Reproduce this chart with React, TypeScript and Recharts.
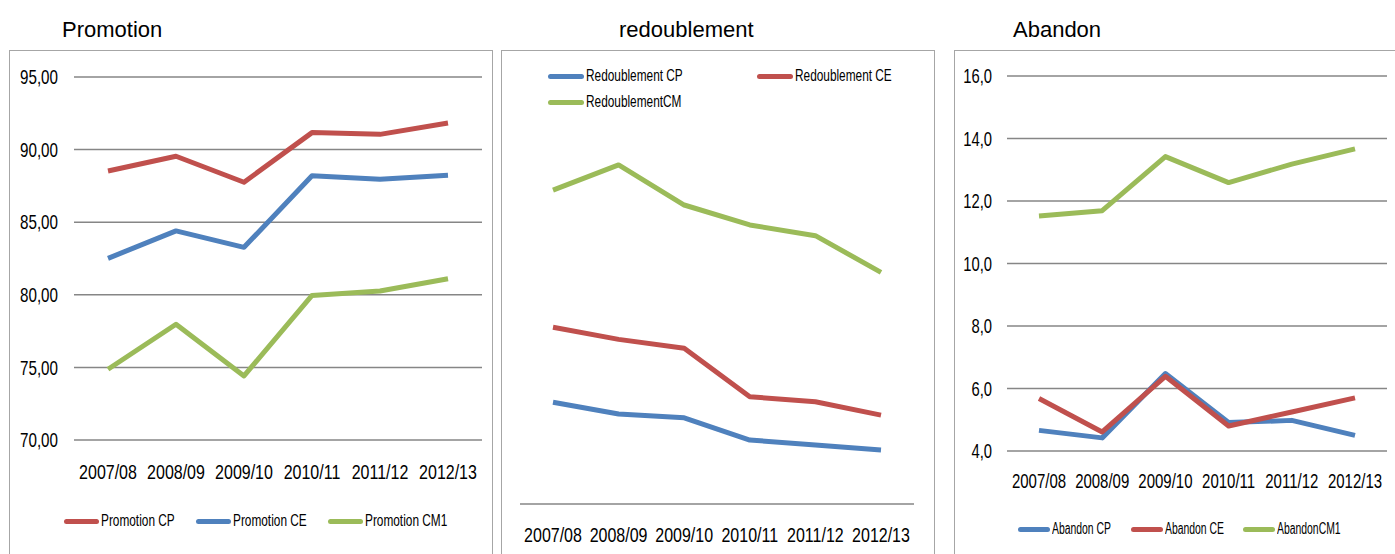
import React from 'react';
import { LineChart, Line, XAxis, YAxis, CartesianGrid, Legend } from 'recharts';

const years = ['2007/08', '2008/09', '2009/10', '2010/11', '2011/12', '2012/13'];

const promotionCP = [88.53, 89.54, 87.75, 91.17, 91.05, 91.83];
const promotionCE = [82.51, 84.4, 83.27, 88.2, 87.95, 88.23];
const promotionCM1 = [74.87, 77.97, 74.41, 79.96, 80.26, 81.11];
const promotionTicks = [70, 75, 80, 85, 90, 95];

const redoublementCP = [5.71, 5.05, 4.84, 3.59, 3.31, 3.03];
const redoublementCE = [9.92, 9.24, 8.74, 6.02, 5.74, 4.99];
const redoublementCM = [17.62, 19.03, 16.78, 15.66, 15.06, 13.0];

const abandonCP = [4.66, 4.42, 6.48, 4.91, 4.98, 4.5];
const abandonCE = [5.68, 4.61, 6.39, 4.8, 5.25, 5.7];
const abandonCM1 = [11.52, 11.69, 13.42, 12.59, 13.18, 13.67];
const abandonTicks = [4, 6, 8, 10, 12, 14, 16];

const RED = '#C0504D';
const BLUE = '#4F81BD';
const GREEN = '#9BBB59';
const GRID = '#868686';
const FONT = "'Liberation Sans', Arial, sans-serif";

type Serie = { key: string; name: string; color: string; values: number[] };

const toRows = (series: Serie[]) =>
  years.map((y, i) => {
    const row: Record<string, string | number> = { year: y };
    series.forEach((s) => (row[s.key] = s.values[i]));
    return row;
  });

// the original uses a condensed face; squeeze Liberation Sans horizontally
const squeezedTick = (squeeze: number, dy: string, fmt?: (v: number) => string) => (props: any) => {
  const { x, y, payload, textAnchor } = props;
  const label = fmt ? fmt(payload.value) : payload.value;
  return (
    <g transform={`translate(${x},${y})`}>
      <text
        x={0}
        y={0}
        dy={dy}
        textAnchor={textAnchor}
        transform={`scale(${squeeze},1)`}
        fontFamily={FONT}
        fontSize={20}
        fill="#000"
      >
        {label}
      </text>
    </g>
  );
};

const makeLegend = (series: Serie[], itemWidth: number, swatch: number, squeeze: number) => () => (
  <div style={{ display: 'flex', flexWrap: 'wrap', width: itemWidth > 200 ? itemWidth * 2 : undefined }}>
    {series.map((s) => (
      <div
        key={s.key}
        style={{ width: itemWidth, height: 26, display: 'flex', alignItems: 'center', fontFamily: FONT, fontSize: 16, color: '#000' }}
      >
        <span style={{ display: 'inline-block', flex: 'none', width: swatch, height: 5, borderRadius: 3, background: s.color, marginRight: 2 }} />
        <span style={{ whiteSpace: 'nowrap', display: 'inline-block', transform: `scaleX(${squeeze})`, transformOrigin: 'left center' }}>
          {s.name}
        </span>
      </div>
    ))}
  </div>
);

const frame = (left: number, width: number): React.CSSProperties => ({
  position: 'absolute',
  left,
  top: 50,
  width,
  height: 520,
  border: '1px solid #a6a6a6',
  boxSizing: 'border-box',
});

const title = (left: number, text: string) => (
  <div
    style={{
      position: 'absolute',
      left,
      top: 17,
      fontFamily: FONT,
      fontSize: 22,
      color: '#000',
      whiteSpace: 'nowrap',
    }}
  >
    {text}
  </div>
);

const promoSeries: Serie[] = [
  { key: 'cp', name: 'Promotion CP', color: RED, values: promotionCP },
  { key: 'ce', name: 'Promotion CE', color: BLUE, values: promotionCE },
  { key: 'cm', name: 'Promotion CM1', color: GREEN, values: promotionCM1 },
];
const redoSeries: Serie[] = [
  { key: 'cp', name: 'Redoublement CP', color: BLUE, values: redoublementCP },
  { key: 'ce', name: 'Redoublement CE', color: RED, values: redoublementCE },
  { key: 'cm', name: 'RedoublementCM', color: GREEN, values: redoublementCM },
];
const abanSeries: Serie[] = [
  { key: 'cp', name: 'Abandon CP', color: BLUE, values: abandonCP },
  { key: 'ce', name: 'Abandon CE', color: RED, values: abandonCE },
  { key: 'cm', name: 'AbandonCM1', color: GREEN, values: abandonCM1 },
];

const fmt2 = (v: number) => v.toFixed(2).replace('.', ',');
const fmt1 = (v: number) => v.toFixed(1).replace('.', ',');

const lines = (series: Serie[]) =>
  series.map((s) => (
    <Line
      key={s.key}
      dataKey={s.key}
      name={s.name}
      stroke={s.color}
      strokeWidth={5}
      strokeLinejoin="round"
      dot={false}
      activeDot={false}
      isAnimationActive={false}
    />
  ));

export default function App() {
  return (
    <div style={{ position: 'absolute', left: 0, top: 0, width: 1395, height: 554, overflow: 'hidden', background: '#fff' }}>
      {title(62, 'Promotion')}
      {title(619, 'redoublement')}
      {title(1013, 'Abandon')}

      <div style={frame(9, 484)} />
      <div style={frame(501, 434)} />
      <div style={frame(954, 460)} />

      {/* Promotion */}
      <div style={{ position: 'absolute', left: 9, top: 50 }}>
        <LineChart width={483} height={504} data={toRows(promoSeries)} margin={{ top: 27, right: 10, bottom: 74, left: 0 }}>
          <CartesianGrid vertical={false} stroke={GRID} strokeWidth={1.5} />
          <XAxis
            dataKey="year"
            axisLine={false}
            tickLine={false}
            tickSize={0}
            tickMargin={25}
            height={40}
            padding={{ left: 34, right: 34 }}
            tick={squeezedTick(0.8, '0.71em')}
            interval={0}
          />
          <YAxis
            width={65}
            domain={[70, 95]}
            ticks={promotionTicks}
            axisLine={false}
            tickLine={false}
            tickSize={0}
            tickMargin={16}
            tick={squeezedTick(0.76, '0.355em', fmt2)}
          />
          <Legend
            verticalAlign="middle"
            align="center"
            wrapperStyle={{ top: 458, left: 55, width: 420 }}
            content={makeLegend(promoSeries, 132, 35, 0.74)}
          />
          {lines(promoSeries)}
        </LineChart>
      </div>

      {/* Redoublement */}
      <div style={{ position: 'absolute', left: 501, top: 50 }}>
        <LineChart width={433} height={504} data={toRows(redoSeries)} margin={{ top: 62, right: 20, bottom: 0, left: 19 }}>
          <XAxis
            dataKey="year"
            axisLine={{ stroke: GRID, strokeWidth: 1.5 }}
            tickLine={false}
            tickSize={0}
            tickMargin={24}
            height={50}
            padding={{ left: 33, right: 33 }}
            tick={squeezedTick(0.8, '0.71em')}
            interval={0}
          />
          <YAxis hide domain={[0, 22]} />
          <Legend
            verticalAlign="middle"
            align="center"
            wrapperStyle={{ top: 13, left: 47, width: 420 }}
            content={makeLegend(redoSeries, 209, 36, 0.74)}
          />
          {lines(redoSeries)}
        </LineChart>
      </div>

      {/* Abandon */}
      <div style={{ position: 'absolute', left: 954, top: 50 }}>
        <LineChart width={446} height={504} data={toRows(abanSeries)} margin={{ top: 26, right: 13, bottom: 63, left: 0 }}>
          <CartesianGrid vertical={false} stroke={GRID} strokeWidth={1.5} />
          <XAxis
            dataKey="year"
            axisLine={false}
            tickLine={false}
            tickSize={0}
            tickMargin={23}
            height={40}
            padding={{ left: 32, right: 32 }}
            tick={squeezedTick(0.75, '0.71em')}
            interval={0}
          />
          <YAxis
            width={53}
            domain={[4, 16]}
            ticks={abandonTicks}
            axisLine={false}
            tickLine={false}
            tickSize={0}
            tickMargin={15}
            tick={squeezedTick(0.74, '0.355em', fmt1)}
          />
          <Legend
            verticalAlign="middle"
            align="center"
            wrapperStyle={{ top: 466, left: 64, width: 380 }}
            content={makeLegend(abanSeries, 112.5, 32, 0.65)}
          />
          {lines(abanSeries)}
        </LineChart>
      </div>
    </div>
  );
}
